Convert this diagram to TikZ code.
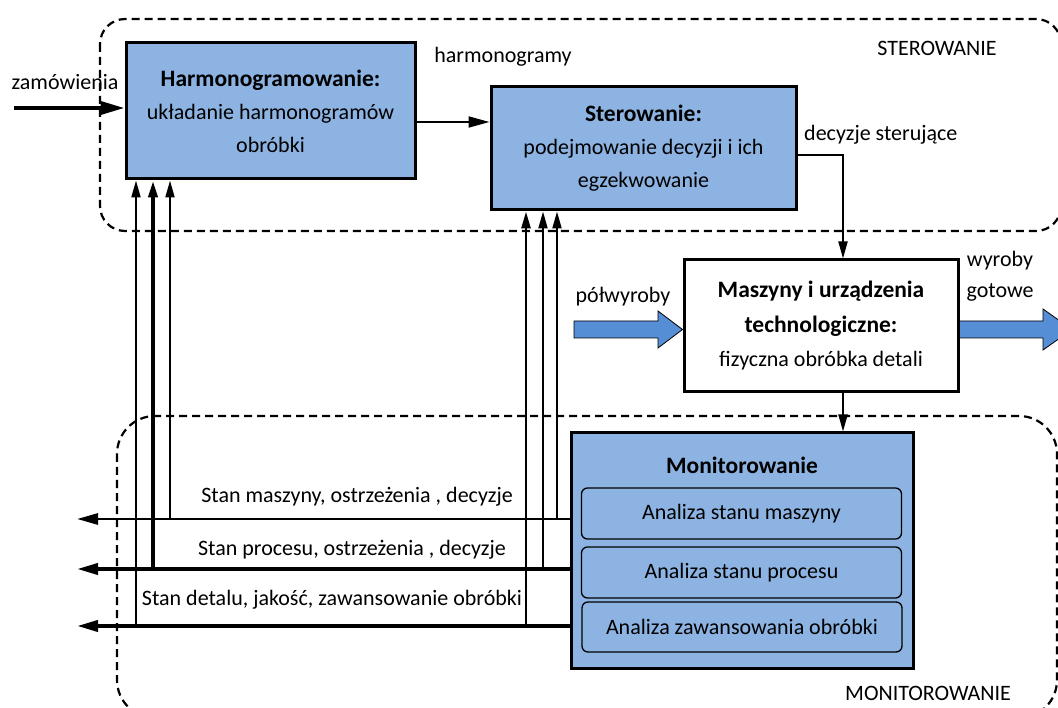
\documentclass[tikz,border=0pt]{standalone}
\usepackage{fontspec}
\setmainfont{Carlito}
\usetikzlibrary{arrows.meta}
\definecolor{boxblue}{RGB}{141,179,226}
\definecolor{arrblue}{RGB}{85,142,213}
\newcommand{\bt}[1]{{\fontsize{23.5}{33}\selectfont\bfseries #1}}
\tikzset{
  box/.style={draw, line width=3pt, fill=boxblue, inner sep=0pt, align=center, font=\fontsize{22}{33}\selectfont},
  subbox/.style={draw, line width=1.3pt, fill=boxblue, rounded corners=6pt, inner sep=0pt, minimum width=320pt, font=\fontsize{22}{26}\selectfont},
  lbl/.style={inner sep=0pt, font=\fontsize{22}{26}\selectfont},
  region/.style={draw, dash pattern=on 8pt off 5pt, line width=2.2pt},
  blockarrow/.style={draw, line width=0.8pt, fill=arrblue},
  tipS/.style={-{Triangle[length=17pt,width=9pt]}},
  tipM/.style={-{Triangle[length=21pt,width=11pt]}},
  tipL/.style={-{Triangle[length=24pt,width=13pt]}},
  thin/.style={line width=2pt},
  mid/.style={line width=2.7pt},
  thick/.style={line width=3.8pt}
}
\begin{document}
\begin{tikzpicture}[x=1pt,y=-1pt]
\useasboundingbox (0,0) rectangle (1058,708);

% regions
\draw[region, rounded corners=25pt] (100,19) rectangle (1061,231);
\draw[region, rounded corners=38pt] (117,416) rectangle (1057,718);
\node[lbl] (lster) at (937,48) {STEROWANIE};
\node[lbl] (lmon) at (928,693) {MONITOROWANIE};

% main boxes
\node[box, minimum width=289pt, minimum height=136pt] (harm) at (270.5,111)
  {\bt{Harmonogramowanie:}\\układanie harmonogramów\\obróbki};
\node[box, minimum width=305pt, minimum height=123pt] (ster) at (643.5,148.5)
  {\bt{Sterowanie:}\\podejmowanie decyzji i ich\\egzekwowanie};
\node[box, fill=white, minimum width=274pt, minimum height=132pt, font=\fontsize{22}{34.5}\selectfont] (masz) at (821,326)
  {\bt{Maszyny i urządzenia}\\\bt{technologiczne:}\\fizyczna obróbka detali};
\node[box, minimum width=342pt, minimum height=235pt] (mon) at (742,550.5) {};
\node[lbl, font=\fontsize{23.5}{26}\selectfont\bfseries] (montitle) at (742,465) {Monitorowanie};
\node[subbox, minimum height=51pt] (an1) at (741.5,513.5) {Analiza stanu maszyny};
\node[subbox, minimum height=51pt] (an2) at (741.5,572.5) {Analiza stanu procesu};
\node[subbox, minimum height=50pt] (an3) at (742,627) {Analiza zawansowania obróbki};

% top flows
\coordinate (zin) at (14,108);
\draw[thick, tipL] (zin) -- (zin -| harm.west);
\node[lbl] (lzam) at (65,82) {zamówienia};
\draw[thin, tipM] (harm.east |- 0,122) -- (ster.west |- 0,122);
\node[lbl] (lharm) at (503,57) {harmonogramy};
\coordinate (dbend) at (843,155);
\draw[thin, tipS] (ster.east |- dbend) -- (dbend) -- (dbend |- masz.north);
\node[lbl, anchor=west] (ldec) at (804,135) {decyzje sterujące};
\draw[thin, tipS] (masz.south -| dbend) -- (mon.north -| dbend);

% block arrows
\draw[blockarrow] (574,321) -- (658,321) -- (658,311) -- (masz.west |- 0,329.5) -- (658,348) -- (658,338) -- (574,338) -- cycle;
\node[lbl] (lpol) at (623,297) {półwyroby};
\draw[blockarrow] (masz.east |- 0,321) -- (1043,321) -- (1043,309) -- (1072,329.5) -- (1043,350) -- (1043,338) -- (masz.east |- 0,338) -- cycle;
\node[lbl] (lwyr) at (1000,261) {wyroby};
\node[lbl] (lgot) at (1000,292) {gotowe};

% feedback horizontal lines
\coordinate (h1) at (77,519);
\coordinate (h2) at (77,569);
\coordinate (h3) at (77,626);
\draw[mid, tipM] (mon.west |- h1) -- (h1);
\draw[thick, tipM] (mon.west |- h2) -- (h2);
\draw[thick, tipM] (mon.west |- h3) -- (h3);
\node[lbl] (lh1) at (357,497) {Stan maszyny, ostrzeżenia , decyzje};
\node[lbl] (lh2) at (352,550) {Stan procesu, ostrzeżenia , decyzje};
\node[lbl] (lh3) at (332,600) {Stan detalu, jakość, zawansowanie obróbki};

% vertical feedback arrows
\coordinate (v1) at (136,626);
\coordinate (v2) at (153,569);
\coordinate (v3) at (170,519);
\coordinate (v4) at (526,626);
\coordinate (v5) at (543,569);
\coordinate (v6) at (557,519);
\draw[thin, tipS] (v1) -- (v1 |- harm.south);
\draw[thick, tipS] (v2) -- (v2 |- harm.south);
\draw[thin, tipS] (v3) -- (v3 |- harm.south);
\draw[mid, tipS] (v4) -- (v4 |- ster.south);
\draw[thin, tipS] (v5) -- (v5 |- ster.south);
\draw[thin, tipS] (v6) -- (v6 |- ster.south);
\end{tikzpicture}
\end{document}
